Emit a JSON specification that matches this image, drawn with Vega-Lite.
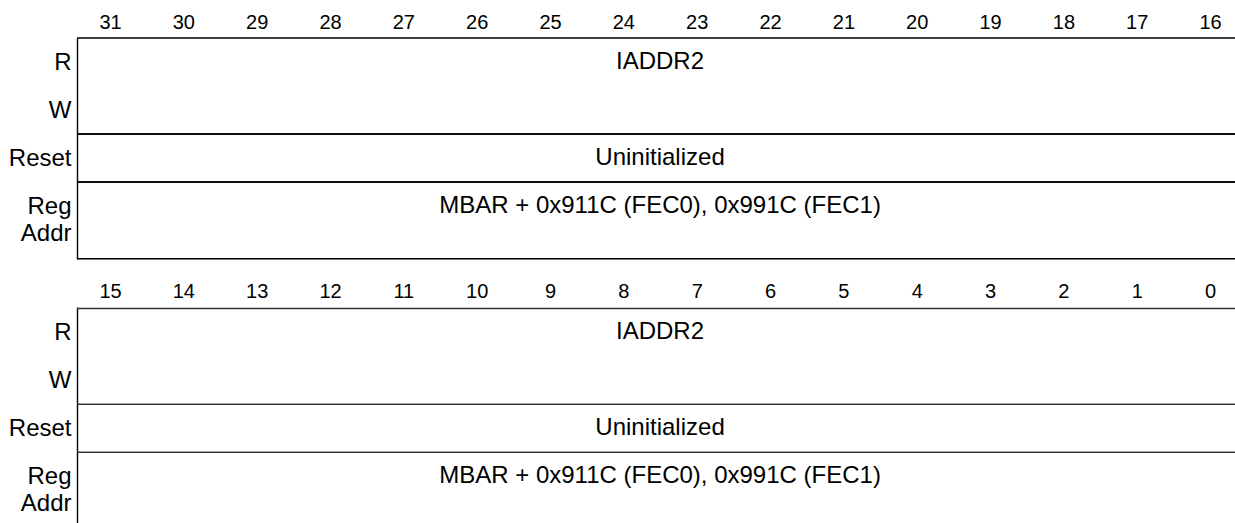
{
  "$schema": "https://vega.github.io/schema/vega-lite/v6.json",
  "padding": {"left": 8, "top": 12, "right": 0, "bottom": 0},
  "spacing": 21,
  "background": "white",
  "config": {
    "view": {"stroke": null},
    "font": "Liberation Sans",
    "axis": {"grid": false, "ticks": false, "tickSize": 0, "title": null, "labelColor": "#000", "labelFont": "Liberation Sans"},
    "text": {"font": "Liberation Sans", "fontSize": 24, "color": "#000"}
  },
  "datasets": {
    "sections": [
      {"block": "high", "section": "Access", "top": 0, "bottom": 2, "text": "IADDR2", "msb": 31, "lsb": 16},
      {"block": "high", "section": "Reset", "top": 2, "bottom": 3, "text": "Uninitialized", "msb": 31, "lsb": 16},
      {"block": "high", "section": "Reg Addr", "top": 3, "bottom": 4.6, "text": "MBAR + 0x911C (FEC0), 0x991C (FEC1)", "msb": 31, "lsb": 16},
      {"block": "low", "section": "Access", "top": 0, "bottom": 2, "text": "IADDR2", "msb": 15, "lsb": 0},
      {"block": "low", "section": "Reset", "top": 2, "bottom": 3, "text": "Uninitialized", "msb": 15, "lsb": 0},
      {"block": "low", "section": "Reg Addr", "top": 3, "bottom": 4.6, "text": "MBAR + 0x911C (FEC0), 0x991C (FEC1)", "msb": 15, "lsb": 0}
    ]
  },
  "vconcat": [
    {
      "width": 1158,
      "height": 220.8,
      "data": {"name": "sections"},
      "transform": [{"filter": "datum.block === 'high'"}],
      "layer": [
        {
          "mark": {"type": "rule", "color": "#000", "strokeWidth": 1.4},
          "transform": [{"fold": ["top", "bottom"], "as": ["edge", "pos"]}],
          "encoding": {
            "y": {
              "field": "pos", "type": "quantitative",
              "scale": {"domain": [0, 4.6], "reverse": true, "nice": false, "zero": false},
              "axis": {"orient": "left", "values": [0.5, 1.5, 2.5, 3.5],
                "labelExpr": "datum.value == 0.5 ? 'R' : datum.value == 1.5 ? 'W' : datum.value == 2.5 ? 'Reset' : ['Reg', 'Addr']",
                "labelFontSize": 24, "labelPadding": 6, "labelLineHeight": 27, "labelBaseline": "middle",
                "domain": true, "domainColor": "#000", "domainWidth": 1.4, "ticks": false}
            }
          }
        },
        {
          "mark": {"type": "text", "baseline": "middle", "dy": 24},
          "transform": [{"fold": ["msb", "lsb"], "as": ["end", "bit"]}],
          "encoding": {
            "x": {
              "aggregate": "mean", "field": "bit", "type": "quantitative",
              "scale": {"domain": [15.66, 31.45], "reverse": true, "nice": false, "zero": false},
              "axis": {"orient": "top", "values": [16, 17, 18, 19, 20, 21, 22, 23, 24, 25, 26, 27, 28, 29, 30, 31],
                "format": "d", "labelFontSize": 20, "labelPadding": 6, "domain": false, "ticks": false,
                "labelAngle": 0, "labelFlush": false, "labelOverlap": false}
            },
            "y": {"field": "top", "type": "quantitative"},
            "text": {"field": "text"}
          }
        }
      ]
    },
    {
      "width": 1158,
      "height": 217.4,
      "data": {"name": "sections"},
      "transform": [{"filter": "datum.block === 'low'"}],
      "layer": [
        {
          "mark": {"type": "rule", "color": "#333", "strokeWidth": 1.4, "clip": true},
          "transform": [{"fold": ["top", "bottom"], "as": ["edge", "pos"]}],
          "encoding": {
            "y": {
              "field": "pos", "type": "quantitative",
              "scale": {"domain": [-0.03, 4.5], "reverse": true, "nice": false, "zero": false},
              "axis": {"orient": "left", "values": [0.5, 1.5, 2.5, 3.5],
                "labelExpr": "datum.value == 0.5 ? 'R' : datum.value == 1.5 ? 'W' : datum.value == 2.5 ? 'Reset' : ['Reg', 'Addr']",
                "labelFontSize": 24, "labelPadding": 6, "labelLineHeight": 27, "labelBaseline": "middle",
                "domain": true, "domainColor": "#000", "domainWidth": 1.4, "ticks": false}
            }
          }
        },
        {
          "mark": {"type": "text", "baseline": "middle", "dy": 24},
          "transform": [{"fold": ["msb", "lsb"], "as": ["end", "bit"]}],
          "encoding": {
            "x": {
              "aggregate": "mean", "field": "bit", "type": "quantitative",
              "scale": {"domain": [-0.34, 15.45], "reverse": true, "nice": false, "zero": false},
              "axis": {"orient": "top", "values": [0, 1, 2, 3, 4, 5, 6, 7, 8, 9, 10, 11, 12, 13, 14, 15],
                "format": "d", "labelFontSize": 20, "labelPadding": 6, "domain": false, "ticks": false,
                "labelAngle": 0, "labelFlush": false, "labelOverlap": false}
            },
            "y": {"field": "top", "type": "quantitative"},
            "text": {"field": "text"}
          }
        }
      ]
    }
  ],
  "resolve": {"scale": {"x": "independent", "y": "independent"}}
}
